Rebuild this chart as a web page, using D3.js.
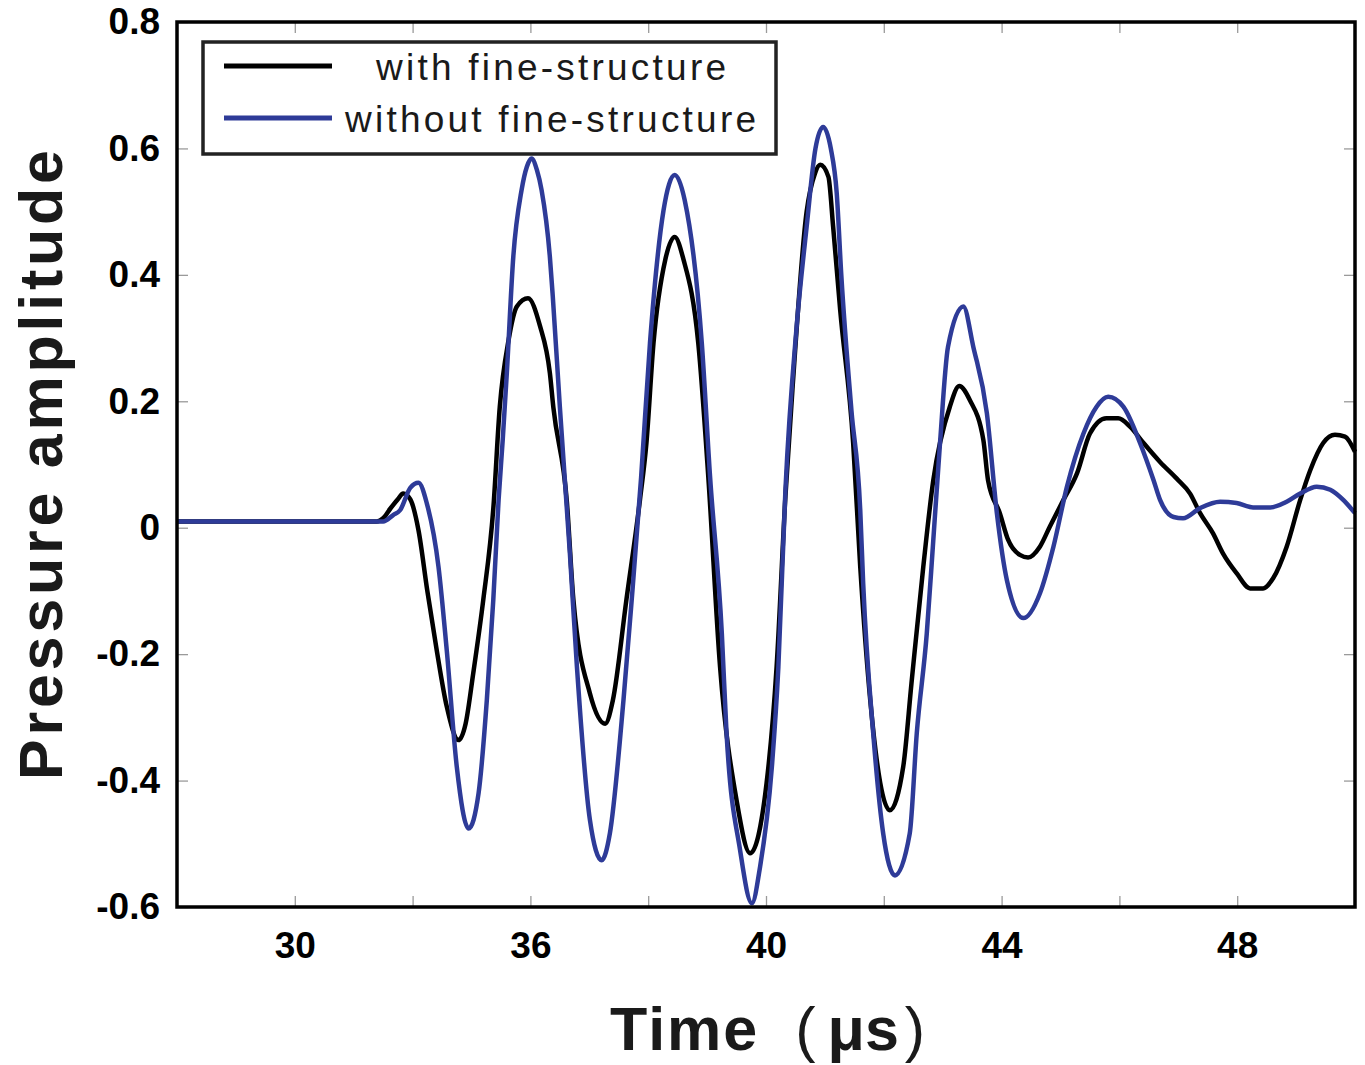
<!DOCTYPE html>
<html>
<head>
<meta charset="utf-8">
<script src="https://cdn.jsdelivr.net/npm/d3@7"></script>
<style>
body { margin: 0; background: #ffffff; }
</style>
</head>
<body>
<div id="chart"></div>
<script>
"use strict";

// Time (us), pressure amplitude
var withFineStructure = [
    [30, 0.01], [33.39, 0.01], [33.5, 0.015], [33.62, 0.03], [33.75, 0.045], [33.84, 0.054],
    [33.96, 0.045], [34.1, -0.004], [34.25, -0.1], [34.41, -0.194], [34.58, -0.283], [34.78, -0.336],
    [34.9, -0.31], [35.03, -0.23], [35.2, -0.114], [35.37, 0.03], [35.48, 0.191], [35.63, 0.297],
    [35.77, 0.35], [35.96, 0.363], [36.16, 0.32], [36.33, 0.245], [36.39, 0.19], [36.62, 0.04],
    [36.73, -0.114], [37.01, -0.262], [37.27, -0.31], [37.4, -0.273], [37.63, -0.114], [37.86, 0.044],
    [37.97, 0.134], [38.09, 0.292], [38.29, 0.424], [38.45, 0.46], [38.6, 0.424], [38.85, 0.292],
    [39.02, 0.081], [39.22, -0.22], [39.5, -0.431], [39.73, -0.515], [40.01, -0.404], [40.18, -0.22],
    [40.33, 0.05], [40.45, 0.22], [40.69, 0.5], [40.83, 0.56], [40.92, 0.574], [41.06, 0.555],
    [41.14, 0.476], [41.26, 0.344], [41.48, 0.134], [41.6, -0.062], [41.77, -0.273], [41.94, -0.404],
    [42.1, -0.447], [42.33, -0.378], [42.47, -0.246], [42.67, -0.062], [42.84, 0.075], [43.12, 0.191],
    [43.28, 0.224], [43.46, 0.202], [43.69, 0.139], [43.77, 0.075], [43.97, 0.023], [44.11, -0.019],
    [44.31, -0.043], [44.45, -0.047], [44.65, -0.03], [44.82, 0.002], [45.05, 0.044], [45.28, 0.086],
    [45.5, 0.149], [45.78, 0.173], [45.98, 0.173], [46.18, 0.16], [46.41, 0.134], [46.69, 0.104],
    [46.97, 0.078], [47.2, 0.054], [47.37, 0.023], [47.59, -0.009], [47.76, -0.041], [47.99, -0.072],
    [48.22, -0.096], [48.44, -0.096], [48.61, -0.08], [48.84, -0.03], [49.07, 0.044], [49.24, 0.091],
    [49.46, 0.134], [49.66, 0.147], [49.83, 0.144], [50, 0.12]
];

var withoutFineStructure = [
    [30, 0.01], [33.5, 0.01], [33.67, 0.02], [33.79, 0.028], [33.96, 0.063], [34.1, 0.071],
    [34.24, 0.039], [34.44, -0.062], [34.58, -0.194], [34.75, -0.378], [34.95, -0.476], [35.12, -0.42],
    [35.26, -0.273], [35.37, -0.114], [35.46, 0.044], [35.53, 0.139], [35.6, 0.245], [35.71, 0.429],
    [35.85, 0.534], [35.94, 0.571], [36.02, 0.584], [36.11, 0.566], [36.19, 0.534], [36.33, 0.429],
    [36.38, 0.366], [36.5, 0.191], [36.67, -0.04], [36.79, -0.22], [37.01, -0.462], [37.21, -0.526],
    [37.35, -0.483], [37.58, -0.273], [37.72, -0.114], [37.88, 0.08], [38.03, 0.292], [38.26, 0.502],
    [38.45, 0.558], [38.62, 0.518], [38.91, 0.292], [39.05, 0.081], [39.25, -0.167], [39.33, -0.325],
    [39.56, -0.51], [39.76, -0.594], [39.9, -0.536], [40.1, -0.378], [40.21, -0.22], [40.33, 0.06],
    [40.52, 0.318], [40.69, 0.476], [40.84, 0.6], [40.97, 0.634], [41.1, 0.6], [41.2, 0.53],
    [41.28, 0.397], [41.45, 0.186], [41.6, 0.028], [41.65, -0.088], [41.82, -0.325], [41.99, -0.484],
    [42.19, -0.55], [42.44, -0.484], [42.56, -0.325], [42.73, -0.167], [42.84, -0.02], [42.95, 0.128],
    [43.09, 0.286], [43.35, 0.35], [43.52, 0.286], [43.75, 0.181], [43.92, 0.023], [44.09, -0.083],
    [44.37, -0.143], [44.65, -0.104], [44.88, -0.03], [45.11, 0.065], [45.39, 0.149], [45.61, 0.191],
    [45.81, 0.207], [46.07, 0.191], [46.35, 0.134], [46.58, 0.075], [46.69, 0.044], [46.92, 0.017],
    [47.08, 0.015], [47.37, 0.031], [47.71, 0.041], [47.99, 0.039], [48.27, 0.032], [48.56, 0.032],
    [48.84, 0.041], [49.07, 0.054], [49.35, 0.065], [49.58, 0.06], [49.8, 0.044], [50, 0.023]
];

// Axes
var xTickValues = [32, 34, 36, 38, 40, 42, 44, 46, 48];
var xLabelValues = [32, 36, 40, 44, 48];
var xLabelTexts = ["30", "36", "40", "44", "48"];   // as printed on the original
var yTickValues = [-0.6, -0.4, -0.2, 0, 0.2, 0.4, 0.6, 0.8];
var yLabelTexts = ["-0.6", "-0.4", "-0.2", "0", "0.2", "0.4", "0.6", "0.8"];

// Legend
var seriesNames = ["with fine-structure", "without fine-structure"];
var seriesColors = ["#000000", "#2e3b98"];


function renderChart(){

    var margin = {
        top: 22,
        right: 10,
        bottom: 158,
        left: 177
    };
    var width = 1365 - margin.left - margin.right;
    var height = 1065 - margin.top - margin.bottom;

    var svg = d3.select("#chart").append("svg")
        .attr("width", 1365)
        .attr("height", 1065);

    var g = svg.append("g")
        .attr("transform", "translate(" + margin.left + "," + margin.top + ")");

    // -------------------------- Scales ------------------------------
    var xScale = d3.scaleLinear().domain([30, 50]).range([0, width]);
    var yScale = d3.scaleLinear().domain([-0.6, 0.8]).range([height, 0]);

    // tick marks on all four sides, pointing inward
    var tickAxes = [
        [d3.axisBottom(xScale).tickValues(xTickValues), "translate(0," + height + ")"],
        [d3.axisTop(xScale).tickValues(xTickValues), "translate(0,0)"],
        [d3.axisLeft(yScale).tickValues(yTickValues), "translate(0,0)"],
        [d3.axisRight(yScale).tickValues(yTickValues), "translate(" + width + ",0)"]
    ];
    tickAxes.forEach(function(a){
        var ax = g.append("g")
            .attr("transform", a[1])
            .call(a[0].tickSize(-11).tickFormat(""));
        ax.select(".domain").remove();
        ax.selectAll("line").attr("stroke", "#9a9a9a").attr("stroke-width", 1.3);
    });

    // tick labels
    var xLabels = g.append("g")
        .attr("transform", "translate(0," + height + ")")
        .call(d3.axisBottom(xScale)
            .tickValues(xLabelValues)
            .tickSize(0)
            .tickPadding(25)
            .tickFormat(function(d, i){ return xLabelTexts[i]; }));
    xLabels.select(".domain").remove();

    var yLabels = g.append("g")
        .call(d3.axisLeft(yScale)
            .tickValues(yTickValues)
            .tickSize(0)
            .tickPadding(17)
            .tickFormat(function(d, i){ return yLabelTexts[i]; }));
    yLabels.select(".domain").remove();

    g.selectAll(".tick text")
        .attr("font-family", "'Liberation Sans', Arial, sans-serif")
        .attr("font-weight", "bold")
        .attr("font-size", "37px")
        .attr("fill", "#000");

    // -------------------------- Lines ------------------------------
    var line = d3.line()
        .x(function(d){ return xScale(d[0]); })
        .y(function(d){ return yScale(d[1]); })
        .curve(d3.curveMonotoneX);

    [withFineStructure, withoutFineStructure].forEach(function(data, i){
        g.append("path")
            .datum(data)
            .attr("d", line)
            .attr("fill", "none")
            .attr("stroke", seriesColors[i])
            .attr("stroke-width", 4.5)
            .attr("stroke-linejoin", "round");
    });

    // frame
    g.append("rect")
        .attr("x", 0)
        .attr("y", 0)
        .attr("width", width)
        .attr("height", height)
        .attr("fill", "none")
        .attr("stroke", "#000")
        .attr("stroke-width", 3.5);

    // -------------------------- Legend ------------------------------
    var legend = svg.append("g");
    legend.append("rect")
        .attr("x", 203)
        .attr("y", 42)
        .attr("width", 573)
        .attr("height", 112)
        .attr("fill", "#fff")
        .attr("stroke", "#222")
        .attr("stroke-width", 3.5);

    var legendText = [[376, 350], [345, 411]];   // start x, text length
    seriesNames.forEach(function(name, i){
        var y = 66 + i * 52;
        legend.append("line")
            .attr("x1", 224)
            .attr("x2", 332)
            .attr("y1", y)
            .attr("y2", y)
            .attr("stroke", seriesColors[i])
            .attr("stroke-width", 5);
        legend.append("text")
            .attr("x", legendText[i][0])
            .attr("y", y + 14)
            .attr("textLength", legendText[i][1])
            .attr("lengthAdjust", "spacing")
            .attr("font-family", "'Liberation Sans', Arial, sans-serif")
            .attr("font-size", "37px")
            .attr("fill", "#1a1a1a")
            .text(name);
    });

    // -------------------------- Axis titles ------------------------------
    svg.append("text")
        .attr("transform", "translate(62,465)rotate(-90)")
        .attr("text-anchor", "middle")
        .attr("textLength", 630)
        .attr("lengthAdjust", "spacing")
        .attr("font-family", "'Liberation Sans', Arial, sans-serif")
        .attr("font-weight", "bold")
        .attr("font-size", "61px")
        .attr("fill", "#1a1a1a")
        .text("Pressure amplitude");

    var xTitle = svg.append("text")
        .attr("x", 610)
        .attr("y", 1050)
        .attr("font-family", "'Liberation Sans', Arial, sans-serif")
        .attr("font-weight", "bold")
        .attr("font-size", "61px")
        .attr("fill", "#1a1a1a");
    xTitle.append("tspan").attr("letter-spacing", "2px").text("Time");
    xTitle.append("tspan")
        .attr("dx", 36)
        .attr("font-weight", "normal")
        .text("(");
    xTitle.append("tspan").attr("dx", 12).text("μs");
    xTitle.append("tspan")
        .attr("dx", 6)
        .attr("font-weight", "normal")
        .text(")");
}

renderChart();
</script>
</body>
</html>
